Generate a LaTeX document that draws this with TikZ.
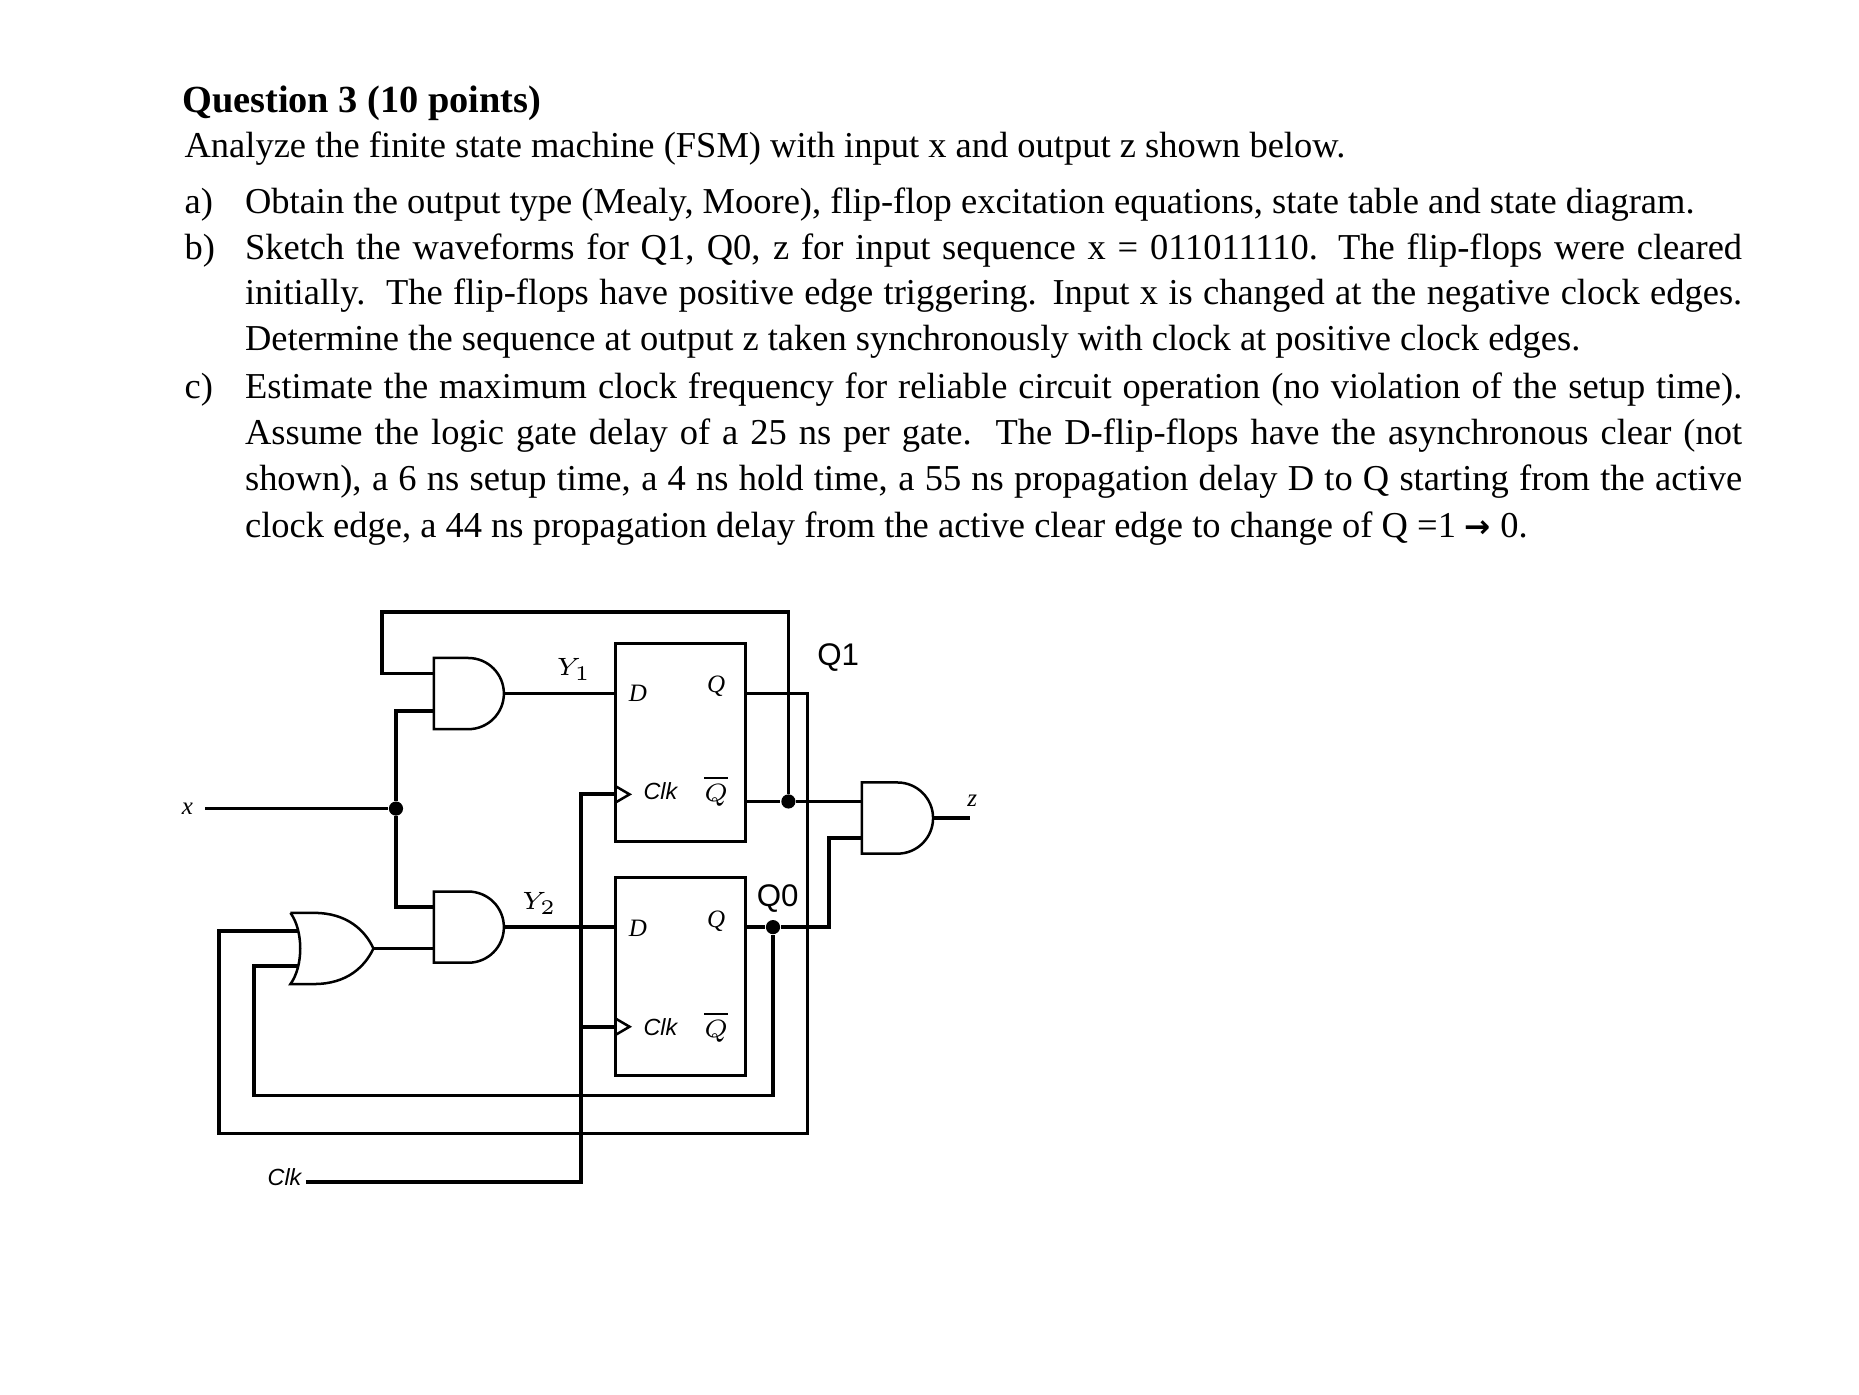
\documentclass[tikz,border=0pt]{standalone}
\usepackage{fontspec}
\setmainfont{Liberation Serif}
\newfontfamily\arialf{Liberation Sans}
\newfontfamily\dejav{DejaVu Sans}
\begin{document}
\begin{tikzpicture}[x=0.01cm,y=-0.01cm,
  wire/.style={line width=0.9pt},
  gate/.style={line width=0.6pt},
  ffbox/.style={line width=0.7pt},
  txt/.style={anchor=base west,inner sep=0pt,font=\fontsize{8.75}{10}\selectfont},
  lab/.style={inner sep=0pt,font=\fontsize{6}{7}\selectfont\itshape},
  clab/.style={inner sep=0pt,font=\arialf\fontsize{5.6}{7}\selectfont\itshape},
  dot/.style={circle,fill,inner sep=0pt,minimum size=3.4pt}]
\useasboundingbox (0,0) rectangle (1568,1176);
% ---------- text ----------
\node[txt,font=\bfseries\fontsize{9.2}{10}\selectfont] (t0) at (153,95) {Question 3 (10 points)};
\node[txt] (t1) at (155,133) {Analyze the finite state machine (FSM) with input x and output z shown below.};
\node[txt] (a0) at (155,180) {a)};
\node[txt] (a1) at (206,180) {Obtain the output type (Mealy, Moore), flip-flop excitation equations, state table and state diagram.};
\node[txt] (b0) at (155,219) {b)};
\node[txt] (b1) at (206,219) {\makebox[12.62cm][s]{Sketch the waveforms for Q1, Q0, z for input sequence x = 011011110. The flip-flops were cleared}};
\node[txt] (b2) at (206,257) {\makebox[12.62cm][s]{initially.\ \ The flip-flops have positive edge triggering. Input x is changed at the negative clock edges.}};
\node[txt] (b3) at (206,296) {Determine the sequence at output z taken synchronously with clock at positive clock edges.};
\node[txt] (c0) at (155,336) {c)};
\node[txt] (c1) at (206,336) {\makebox[12.62cm][s]{Estimate the maximum clock frequency for reliable circuit operation (no violation of the setup time).}};
\node[txt] (c2) at (206,375) {\makebox[12.62cm][s]{Assume the logic gate delay of a 25 ns per gate.\ \ The D-flip-flops have the asynchronous clear (not}};
\node[txt] (c3) at (206,414) {\makebox[12.62cm][s]{shown), a 6 ns setup time, a 4 ns hold time, a 55 ns propagation delay D to Q starting from the active}};
\node[txt] (c4) at (206,453) {clock edge, a 44 ns propagation delay from the active clear edge to change of Q =1 {\dejav\bfseries\fontsize{7.5}{9}\selectfont →} 0.};
% ---------- gates ----------
\draw[gate] (366,555) -- (395,555) arc[start angle=90,end angle=-90,radius=0.3cm] -- (366,615) -- cycle;
\draw[gate] (366,752) -- (395,752) arc[start angle=90,end angle=-90,radius=0.3cm] -- (366,812) -- cycle;
\draw[gate] (727,660) -- (757,660) arc[start angle=90,end angle=-90,radius=0.3cm] -- (727,720) -- cycle;
\draw[gate] (245,770) -- (265,770) .. controls (293,770) and (308,785) .. (315,800) .. controls (308,815) and (293,830) .. (265,830) -- (245,830) .. controls (256,815) and (256,785) .. (245,770);
\coordinate (and1o) at (425,585);
\coordinate (and2o) at (425,782);
\coordinate (and3o) at (787,690);
\coordinate (oro) at (315,800);
% ---------- flip-flops ----------
\node[draw,ffbox,minimum width=1.1cm,minimum height=1.67cm,inner sep=0pt] (ff1) at (574,626.5) {};
\node[draw,ffbox,minimum width=1.1cm,minimum height=1.67cm,inner sep=0pt] (ff2) at (574,823.5) {};
\node[lab] (d1) at (538,585) {D};
\node[lab] (q1) at (604,579) {Q};
\node[clab] (k1) at (557,667) {Clk};
\node[lab] (qb1) at (604,667) {$\overline{Q}$};
\node[lab] (d2) at (538,783) {D};
\node[lab] (q2) at (604,777) {Q};
\node[clab] (k2) at (557,866) {Clk};
\node[lab] (qb2) at (604,866) {$\overline{Q}$};
\draw[gate] (519,663) -- (531,670) -- (519,677);
\draw[gate] (519,859) -- (531,866) -- (519,873);
% ---------- labels ----------
\node[lab] (y1) at (484,565) {$Y_1$};
\node[lab] (y2) at (455,762) {$Y_2$};
\node[lab] (xl) at (158,682) {x};
\node[lab] (zl) at (820,675) {z};
\node[clab] (clkl) at (240,993) {Clk};
\node[inner sep=0pt,font=\arialf\fontsize{7.5}{9}\selectfont] (q1l) at (707,555) {Q1};
\node[inner sep=0pt,font=\arialf\fontsize{7.5}{9}\selectfont] (q0l) at (656,758) {Q0};
% ---------- wires ----------
\node[dot] (jx) at (334,682) {};
\node[dot] (jq1b) at (665,676) {};
\node[dot] (jq0) at (652,782) {};
\draw[wire] (173,682) -- (jx);
\draw[wire] (366,600) -- (334,600) -- (jx) -- (334,765) -- (366,765);
\draw[wire] (366,568) -- (322,568) -- (322,516) -- (665,516) -- (jq1b);
\draw[wire] (and1o) -- (519,585);
\draw[wire] (and2o) -- (519,782);
\draw[wire] (oro) -- (366,800);
\draw[wire] (629,585) -- (681,585) -- (681,956) -- (185,956) -- (185,785) -- (251,785);
\draw[wire] (629,676) -- (jq1b) -- (727,676);
\draw[wire] (629,782) -- (jq0) -- (699,782) -- (699,707) -- (727,707);
\draw[wire] (jq0) -- (652,924) -- (214,924) -- (214,815) -- (251,815);
\draw[wire] (and3o) -- (818,690);
\draw[wire] (258,997) -- (490,997) -- (490,670) -- (519,670);
\draw[wire] (490,866) -- (519,866);
\end{tikzpicture}
\end{document}
